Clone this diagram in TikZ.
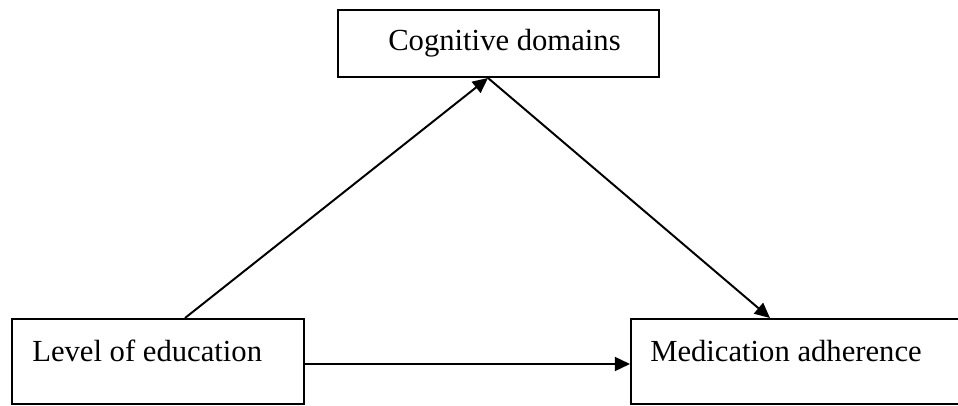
\documentclass[tikz,border=0pt]{standalone}
\usepackage{fontspec}
\setmainfont{Liberation Serif}
\usetikzlibrary{arrows.meta}

\begin{document}
\begin{tikzpicture}[>={Triangle[length=0.38cm,width=0.35cm]},
  box/.style={draw, line width=1.4pt, inner sep=0pt},
  lbl/.style={anchor=base west, inner sep=0pt, font=\fontsize{21.8}{26}\selectfont}]
\useasboundingbox (0,0) rectangle (23.95,10.125);
%\draw[help lines, color=gray!30] (0,0) grid (23.95,10.125);
\node [box, minimum width=7.3cm, minimum height=2.125cm] (edu) at (3.95,1.0875) {};
\node [lbl] (edu_text) at (0.8,1.1) {Level of education};
\node [box, minimum width=8.025cm, minimum height=1.675cm] (cog) at (12.4625,9.0375) {};
\node [lbl] (cog_text) at (9.7,8.85) {Cognitive domains};
% right side runs off the page
\node [box, minimum width=8.6cm, minimum height=2.125cm] (med) at (20.075,1.0875) {};
\node [lbl] (med_text) at (16.25,1.1) {Medication adherence};

\coordinate (edu_x) at (4.625,0);
\coordinate (cog_x) at (12.2,0);
\coordinate (med_x) at (19.25,0);
\coordinate (path_y) at (0,1.025);
\draw [->, line width=1.4pt] (edu.north -| edu_x) -- (cog.south -| cog_x);
\draw [->, line width=1.4pt] (cog.south -| cog_x) -- (med.north -| med_x);
\draw [->, line width=1.4pt] (edu.east |- path_y) -- (med.west |- path_y);
\end{tikzpicture}
\end{document}
